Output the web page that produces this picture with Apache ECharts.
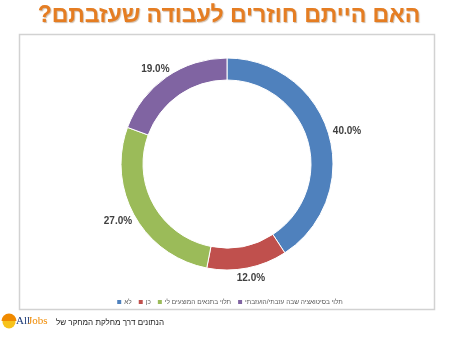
<!DOCTYPE html>
<html>
<head>
<meta charset="utf-8">
<script src="https://cdn.jsdelivr.net/npm/echarts@6/dist/echarts.min.js"></script>
<style>
html,body{margin:0;padding:0;background:#fff;}
#chart{width:458px;height:337px;}
</style>
</head>
<body>
<div id="chart"></div>
<script>
const titleText = 'האם הייתם חוזרים לעבודה שעזבתם?';
const categories = ['לא', 'כן', 'תלוי בתנאים המוצעים לי', 'תלוי בסיטואציה שבה עזבתי/הועזבתי'];
const values = [40, 12, 27, 19];
const colors = ['#4F81BD', '#C0504D', '#9BBB59', '#8064A2'];
const footerText = 'הנתונים דרך מחלקת המחקר של';

const CX = 227, CY = 164, R_OUT = 106, R_IN = 84;
const total = values.reduce((a, b) => a + b, 0);

const chart = echarts.init(document.getElementById('chart'), null, {renderer: 'canvas'});

chart.setOption({
  animation: false,
  color: colors,
  legend: {
    left: 'center',
    top: 293,
    itemWidth: 6,
    itemHeight: 6,
    itemGap: 5,
    icon: 'rect',
    textStyle: {fontSize: 6.5, color: '#595959', fontFamily: 'Liberation Sans, Arial, sans-serif', padding: [0, 0, 0, -3]},
    data: categories
  },
  graphic: [
    {type: 'rect', shape: {x: 19.5, y: 34.5, width: 415, height: 275}, style: {fill: 'none', stroke: '#d2d2d2', lineWidth: 1.5}, z: -1},
    {type: 'text', x: 229, y: 16, style: {text: titleText + '\u200F', fontSize: 23, fontWeight: 'bold', fontFamily: 'Liberation Sans, Arial, sans-serif', fill: '#E57D22', align: 'center', verticalAlign: 'middle', textShadowColor: 'rgba(120,60,0,0.35)', textShadowOffsetX: 1, textShadowOffsetY: 1, textShadowBlur: 1}},
    {type: 'text', x: 164, y: 323, style: {text: footerText, fontSize: 8, fontFamily: 'Liberation Sans, Arial, sans-serif', fill: '#222', align: 'right', verticalAlign: 'middle'}},
    {type: 'circle', shape: {cx: 9, cy: 322, r: 6.5}, style: {fill: '#F7C21A'}},
    {type: 'sector', shape: {cx: 9, cy: 321, r: 7.5, r0: 0, startAngle: Math.PI, endAngle: 2 * Math.PI}, style: {fill: '#F08A00'}},
    {type: 'text', x: 16, y: 321, style: {text: 'All', fontSize: 11, fontFamily: 'Liberation Serif, Times New Roman, serif', fill: '#1F3C78', align: 'left', verticalAlign: 'middle'}},
    {type: 'text', x: 28, y: 321, style: {text: 'Jobs', fontSize: 11, fontFamily: 'Liberation Serif, Times New Roman, serif', fill: '#F08A00', align: 'left', verticalAlign: 'middle'}}
  ],
  series: [{
    type: 'pie',
    center: [CX, CY],
    radius: [R_IN, R_OUT],
    startAngle: 90,
    clockwise: true,
    avoidLabelOverlap: false,
    itemStyle: {borderColor: '#fff', borderWidth: 1},
    label: {
      show: true,
      position: 'outside',
      formatter: p => p.value.toFixed(1) + '%',
      fontSize: 10,
      fontWeight: 'bold',
      color: '#404040',
      fontFamily: 'Liberation Sans, Arial, sans-serif'
    },
    labelLine: {show: false},
    labelLayout: function (params) {
      const i = params.dataIndex;
      let cum = 0;
      for (let k = 0; k < i; k++) cum += values[k];
      const mid = (cum + values[i] / 2) / total * Math.PI * 2;
      const dx = Math.sin(mid), dy = -Math.cos(mid);
      const w = params.labelRect.width, h = params.labelRect.height;
      const r = R_OUT + 5;
      return {
        x: CX + r * dx + dx * w / 2,
        y: CY + r * dy + dy * h / 2,
        align: 'center',
        verticalAlign: 'middle'
      };
    },
    data: categories.map((c, i) => ({name: c, value: values[i]}))
  }]
});
</script>
</body>
</html>
